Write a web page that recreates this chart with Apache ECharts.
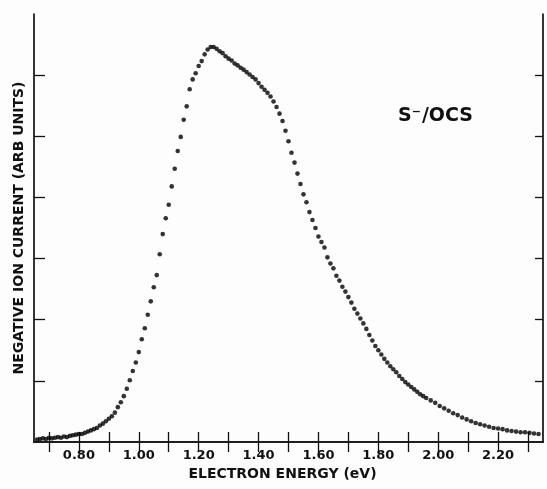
<!DOCTYPE html>
<html><head><meta charset="utf-8">
<script src="https://cdn.jsdelivr.net/npm/echarts@6/dist/echarts.min.js"></script>
<style>html,body{margin:0;padding:0;background:#fdfdfd}#c{width:547px;height:489px}</style>
</head><body><div id="c"></div>
<script>
// Electron energy (eV)
const energy = [
  0.66,0.67,0.68,0.69,0.70,0.71,0.72,0.73,0.74,0.75,0.76,0.77,0.78,0.79,
  0.80,0.81,0.82,0.83,0.84,0.85,0.86,0.87,0.88,0.89,
  0.90,0.91,0.92,0.93,0.94,0.95,0.96,0.97,0.98,0.99,
  1.00,1.01,1.02,1.03,1.04,1.05,1.06,1.07,1.08,1.09,
  1.10,1.11,1.12,1.13,1.14,1.15,1.16,1.17,1.18,1.19,
  1.20,1.21,1.22,1.23,1.24,1.25,1.26,1.27,1.28,1.29,
  1.30,1.31,1.32,1.33,1.34,1.35,1.36,1.37,1.38,1.39,
  1.40,1.41,1.42,1.43,1.44,1.45,1.46,1.47,1.48,1.49,
  1.50,1.51,1.52,1.53,1.54,1.55,1.56,1.57,1.58,1.59,
  1.60,1.61,1.62,1.63,1.64,1.65,1.66,1.67,1.68,1.69,
  1.70,1.71,1.72,1.73,1.74,1.75,1.76,1.77,1.78,1.79,
  1.80,1.81,1.82,1.83,1.84,1.85,1.86,1.87,1.88,1.89,
  1.90,1.91,1.92,1.93,1.94,1.95,1.96,
  1.975,1.99,2.005,2.02,2.035,2.05,2.065,2.08,2.095,2.11,2.125,2.14,2.155,
  2.17,2.185,2.20,2.215,2.23,2.245,2.26,2.275,2.29,2.305,2.32,2.335
];
// Negative ion current (arb. units)
const current = [
  0.04,0.05,0.06,0.05,0.07,0.06,0.07,0.08,0.07,0.09,0.08,0.10,0.11,0.12,
  0.13,0.13,0.15,0.17,0.19,0.21,0.23,0.27,0.30,0.34,
  0.38,0.42,0.48,0.57,0.65,0.75,0.87,1.01,1.16,1.30,
  1.47,1.68,1.86,2.08,2.30,2.53,2.73,3.07,3.40,3.66,
  3.88,4.18,4.47,4.76,4.99,5.27,5.49,5.77,5.93,6.03,
  6.15,6.23,6.34,6.42,6.46,6.46,6.43,6.39,6.36,6.31,
  6.27,6.24,6.19,6.16,6.12,6.09,6.05,6.01,5.97,5.93,
  5.87,5.81,5.76,5.71,5.65,5.57,5.48,5.37,5.25,5.09,
  4.92,4.73,4.57,4.39,4.22,4.05,3.92,3.76,3.63,3.50,
  3.36,3.27,3.18,3.02,2.92,2.84,2.72,2.64,2.54,2.46,
  2.37,2.28,2.18,2.10,2.02,1.94,1.85,1.75,1.66,1.57,
  1.50,1.43,1.36,1.30,1.24,1.19,1.14,1.08,1.03,0.98,
  0.94,0.90,0.86,0.82,0.78,0.75,0.72,
  0.68,0.64,0.59,0.55,0.51,0.47,0.44,0.40,0.37,0.34,0.31,0.29,0.27,
  0.25,0.23,0.22,0.21,0.19,0.18,0.17,0.16,0.16,0.15,0.14,0.13
];
const xTickValues = [0.7,0.8,0.9,1.0,1.1,1.2,1.3,1.4,1.5,1.6,1.7,1.8,1.9,2.0,2.1,2.2,2.3];
const xLabelValues = [0.8,1.0,1.2,1.4,1.6,1.8,2.0,2.2];
const yTickValues = [1,2,3,4,5,6];

const points = energy.map((e, i) => [e, current[i]]);
const ink = '#111';
const font = 'DejaVu Sans';

const chart = echarts.init(document.getElementById('c'), null, {renderer: 'canvas'});
chart.setOption({
  backgroundColor: '#fdfdfd',
  animation: false,
  grid: {left: 34, right: 4, top: 14, bottom: 47},
  xAxis: [{
    type: 'value', min: 0.65, max: 2.35, position: 'bottom',
    name: 'ELECTRON ENERGY (eV)', nameLocation: 'middle', nameGap: 25,
    nameTextStyle: {color: ink, fontFamily: font, fontWeight: 'bold', fontSize: 14, padding: [0, 12, 0, 0]},
    axisLine: {show: true, lineStyle: {color: ink, width: 1.7}},
    axisTick: {show: true, inside: true, length: 10, customValues: xTickValues, lineStyle: {color: ink, width: 1.3}},
    axisLabel: {show: true, customValues: xLabelValues, margin: 7, color: ink, fontFamily: font, fontWeight: 'bold', fontSize: 13,
      formatter: v => v.toFixed(2)},
    splitLine: {show: false}
  }, {
    type: 'value', min: 0.65, max: 2.35, position: 'top',
    axisLine: {show: true, lineStyle: {color: ink, width: 1.7}},
    axisTick: {show: true, inside: true, length: 10, customValues: xTickValues, lineStyle: {color: ink, width: 1.3}},
    axisLabel: {show: false},
    splitLine: {show: false}
  }],
  yAxis: [{
    type: 'value', min: 0, max: 7, position: 'left',
    name: 'NEGATIVE ION CURRENT (ARB UNITS)', nameLocation: 'middle', nameGap: 8,
    nameTextStyle: {color: ink, fontFamily: font, fontWeight: 'bold', fontSize: 14},
    axisLine: {show: true, lineStyle: {color: ink, width: 1.7}},
    axisTick: {show: true, inside: true, length: 11, customValues: yTickValues, lineStyle: {color: ink, width: 1.3}},
    axisLabel: {show: false},
    splitLine: {show: false}
  }, {
    type: 'value', min: 0, max: 7, position: 'right',
    axisLine: {show: true, lineStyle: {color: ink, width: 1.7}},
    axisTick: {show: true, inside: true, length: 8, customValues: yTickValues, lineStyle: {color: ink, width: 1.3}},
    axisLabel: {show: false},
    splitLine: {show: false}
  }],
  graphic: [{
    type: 'text', left: 398, top: 107,
    style: {
      text: 'S{sup|−}/OCS',
      rich: {sup: {fontSize: 11, verticalAlign: 'top', padding: [0, 1, 8, 0], fontFamily: font, fontWeight: 'bold', fill: ink}},
      fontFamily: font, fontWeight: 'bold', fontSize: 19, fill: ink
    }
  }],
  series: [{
    type: 'scatter', xAxisIndex: 0, yAxisIndex: 0,
    data: points, symbol: 'circle', symbolSize: 4.6,
    itemStyle: {color: '#000'}
  }]
});
</script>
</body></html>
